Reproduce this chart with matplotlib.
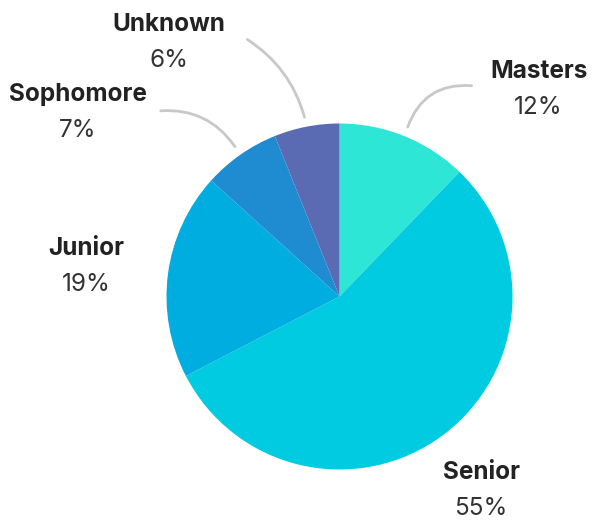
import matplotlib.pyplot as plt
import numpy as np
from matplotlib.patches import FancyArrowPatch

plt.rcParams["font.family"] = ["Inter", "DejaVu Sans"]

# data
categories = ["Masters", "Senior", "Junior", "Sophomore", "Unknown"]
shares = [12.2, 55.2, 19.3, 7.2, 6.1]
pct_labels = ["12%", "55%", "19%", "7%", "6%"]
colors = ["#2ee6d6", "#00cbe0", "#00ade0", "#1f8bd1", "#5a6bb3"]

# label layout (pie radius = 1)
label_pos = [(1.151, 1.261), (0.818, -1.055), (-1.465, 0.240),
             (-1.512, 1.130), (-0.986, 1.535)]
leader_end = {"Masters": ((0.780, 1.217), -0.4),
              "Sophomore": ((-1.049, 1.072), 0.3),
              "Unknown": ((-0.546, 1.494), 0.2)}

fig = plt.figure(figsize=(6.05, 5.21), dpi=100)
ax = fig.add_axes([0, 0, 1, 1])
r_px = 173.0
ax.axis("off")

wedges, _ = ax.pie(shares, colors=colors, startangle=90, counterclock=False,
                   radius=1, wedgeprops=dict(linewidth=0))
ax.set_xlim(-339.5 / r_px, (605 - 339.5) / r_px)
ax.set_ylim(-(521 - 296.5) / r_px, 296.5 / r_px)
ax.set_aspect("equal")

for w, name, pct, (lx, ly) in zip(wedges, categories, pct_labels, label_pos):
    ax.text(lx, ly, name, ha="center", va="baseline", fontsize=17.5,
            fontweight="bold", color="#222222")
    ax.text(lx, ly - 36 / r_px, pct, ha="center", va="baseline", fontsize=17.5,
            color="#333333")
    if name in leader_end:
        mid = np.deg2rad((w.theta1 + w.theta2) / 2)
        start = (1.04 * np.cos(mid), 1.04 * np.sin(mid))
        end, rad = leader_end[name]
        ax.add_patch(FancyArrowPatch(start, end, arrowstyle="-",
                                     connectionstyle=f"arc3,rad={rad}",
                                     color="#c8c8c8", linewidth=2))

fig.savefig("out.png", dpi=100)
